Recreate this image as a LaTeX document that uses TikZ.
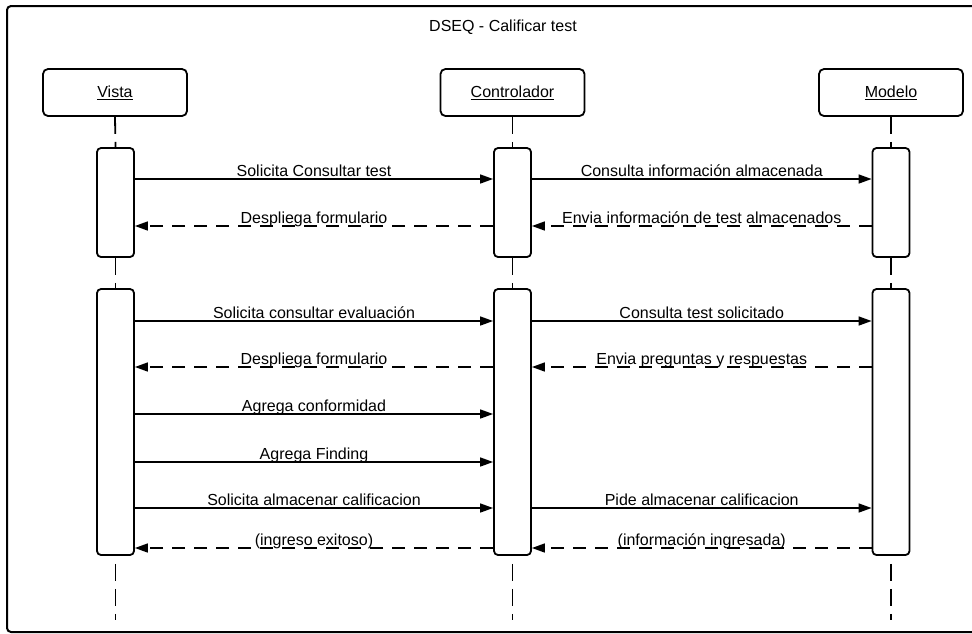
\documentclass[tikz,border=0pt]{standalone}
\usepackage{fontspec}
\setmainfont{Liberation Sans}
\usetikzlibrary{arrows.meta}
\tikzset{
  frame/.style={draw, line width=2pt, rounded corners=4pt},
  head/.style={draw, line width=1.8pt, rounded corners=5pt, minimum width=144pt, minimum height=47pt, inner sep=0pt, font=\fontsize{16}{19}\selectfont},
  act/.style={draw, line width=1.8pt, rounded corners=4pt, minimum width=37pt, inner sep=0pt},
  life/.style={line width=1.8pt, dash pattern=on 17pt off 8pt},
  msg/.style={line width=1.5pt, -{Triangle[length=13pt,width=9pt]}},
  ret/.style={msg, dash pattern=on 13pt off 9pt},
  lbl/.style={midway, anchor=base, yshift=2.5pt, inner sep=0pt, font=\fontsize{16}{19}\selectfont},
}
\begin{document}
\begin{tikzpicture}[x=1pt, y=-1pt]
\useasboundingbox (0,0) rectangle (972,633);
\clip (0,0) rectangle (972,633);
\draw[frame] (7,6) rectangle (990,632);
\node[font=\fontsize{16}{19}\selectfont] (title) at (503,27) {DSEQ - Calificar test};
% headers
\node[head] (vista) at (115,92.5) {\underline{Vista}};
\node[head] (ctrl) at (512.5,92.5) {\underline{Controlador}};
\node[head] (model) at (891,92.5) {\underline{Modelo}};
% activations group 1
\node[act, minimum height=109pt] (va1) at (115.5,202.5) {};
\node[act, minimum height=109pt] (ca1) at (512.5,202.5) {};
\node[act, minimum height=109pt] (ma1) at (891,202.5) {};
% activations group 2
\node[act, minimum height=266pt] (va2) at (115.5,422) {};
\node[act, minimum height=266pt] (ca2) at (512.5,422) {};
\node[act, minimum height=266pt] (ma2) at (891,422) {};
% lifelines
\coordinate (vend) at (115.5,620);
\coordinate (cend) at (512.5,620);
\coordinate (mend) at (891,620);
\draw[life] (vista.south) -- (va1.north);
\draw[life] (ctrl.south) -- (ca1.north);
\draw[life] (model.south) -- (ma1.north);
\draw[life] (va1.south) -- (va2.north);
\draw[life] (ca1.south) -- (ca2.north);
\draw[life] (ma1.south) -- (ma2.north);
\draw[life, dash phase=-8pt] (va2.south) -- (vend);
\draw[life, dash phase=-8pt] (ca2.south) -- (cend);
\draw[life, dash phase=-8pt] (ma2.south) -- (mend);
% group 1 messages
\draw[msg] (va1.east |- 0,179) -- node[lbl] {Solicita Consultar test} (ca1.west |- 0,179);
\draw[msg] (ca1.east |- 0,179) -- node[lbl] {Consulta información almacenada} (ma1.west |- 0,179);
\draw[ret] (ma1.west |- 0,226) -- node[lbl] {Envia información de test almacenados} (ca1.east |- 0,226);
\draw[ret] (ca1.west |- 0,226) -- node[lbl] {Despliega formulario} (va1.east |- 0,226);
% group 2 messages
\draw[msg] (va2.east |- 0,321) -- node[lbl] {Solicita consultar evaluación} (ca2.west |- 0,321);
\draw[msg] (ca2.east |- 0,321) -- node[lbl] {Consulta test solicitado} (ma2.west |- 0,321);
\draw[ret] (ma2.west |- 0,367) -- node[lbl] {Envia preguntas y respuestas} (ca2.east |- 0,367);
\draw[ret] (ca2.west |- 0,367) -- node[lbl] {Despliega formulario} (va2.east |- 0,367);
\draw[msg] (va2.east |- 0,414) -- node[lbl] {Agrega conformidad} (ca2.west |- 0,414);
\draw[msg] (va2.east |- 0,462) -- node[lbl] {Agrega Finding} (ca2.west |- 0,462);
\draw[msg] (va2.east |- 0,508) -- node[lbl] {Solicita almacenar calificacion} (ca2.west |- 0,508);
\draw[msg] (ca2.east |- 0,508) -- node[lbl] {Pide almacenar calificacion} (ma2.west |- 0,508);
\draw[ret] (ma2.west |- 0,548) -- node[lbl] {(información ingresada)} (ca2.east |- 0,548);
\draw[ret] (ca2.west |- 0,548) -- node[lbl] {(ingreso exitoso)} (va2.east |- 0,548);
\end{tikzpicture}
\end{document}
